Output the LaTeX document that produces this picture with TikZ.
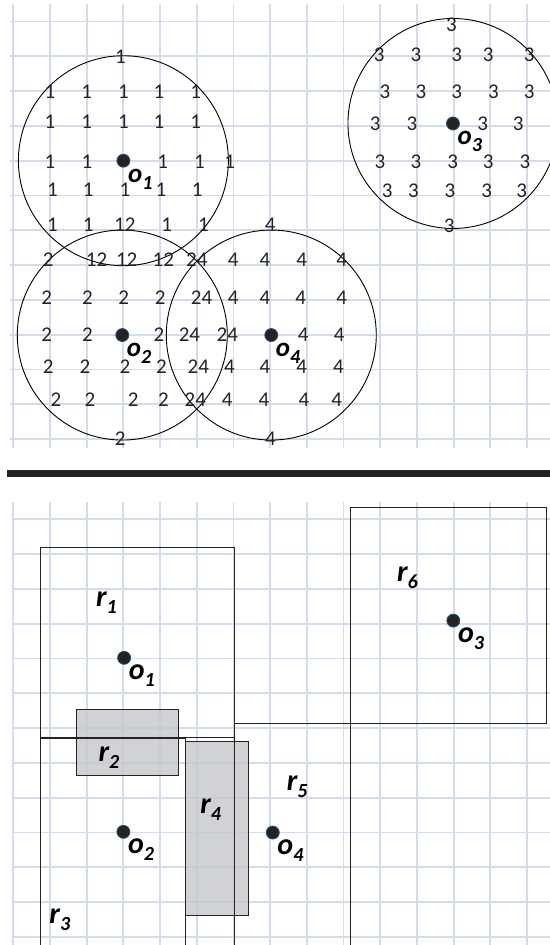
\documentclass[tikz,border=0pt]{standalone}
\usepackage{fontspec}
\setmainfont{Carlito}
\usetikzlibrary{positioning}
\definecolor{gridblue}{RGB}{212,220,236}
\definecolor{boxgray}{RGB}{198,199,203}
\definecolor{dotrim}{RGB}{40,80,130}
\definecolor{ink}{RGB}{35,35,35}
\tikzset{
  gridline/.style={gridblue,line width=1.8pt},
  sepline/.style={ink,line width=6.8pt},
  zone/.style={black,line width=0.9pt},
  rbox/.style={ink,line width=1pt},
  shaded/.style={fill=boxgray,fill opacity=0.8,draw=ink,line width=1pt},
  dot/.style={circle,fill=ink,draw=dotrim,line width=0.8pt,inner sep=0pt,minimum size=13pt},
  num/.style={ink,font=\fontsize{21}{21}\selectfont,inner sep=0pt},
  olab/.style={anchor=base west,inner sep=0pt,xshift=4.5pt,yshift=-21.5pt,
    font=\fontsize{27}{27}\selectfont\bfseries\itshape},
  rlab/.style={anchor=base west,inner sep=0pt,
    font=\fontsize{30}{30}\selectfont\bfseries\itshape},
  bigtext/.style={font=\fontsize{30}{30}\selectfont\bfseries\itshape},
}
\newcommand{\lbl}[2]{#1\raisebox{-7pt}{\fontsize{20}{20}\selectfont #2}}

\begin{document}
\begin{tikzpicture}[x=36.7pt,y=-34.8pt]
  \useasboundingbox (-0.362,-0.618) rectangle (14.624,26.537);

  % upper grid
  \foreach \i in {0,...,14}
    \draw[gridline] (\i,-0.5) -- (\i,12.26);
  \foreach \j in {0,...,12}
    \draw[gridline] (-0.09,\j) -- (14.7,\j);

  \draw[sepline] (-0.18,12.98) -- (14.7,12.98);

  % objects with their circles
  \node[dot] (o1) at (3,4) {};
  \node[dot] (o2) at (2.97,9.01) {};
  \node[dot] (o3) at (11.98,2.93) {};
  \node[dot] (o4) at (7.03,9.01) {};
  \foreach \o in {o1,o2,o3,o4}
    \draw[zone] (\o) circle[radius=105pt];

  \foreach \x/\y/\t [count=\k] in {2.92/1.0/1,
      1.0/2.03/1, 2.0/2.03/1, 3.0/2.03/1, 3.97/2.03/1, 4.97/2.03/1,
      1.0/2.88/1, 2.0/2.88/1, 3.0/2.88/1, 3.97/2.88/1, 4.97/2.88/1,
      1.0/4.03/1, 2.01/4.03/1, 4.07/4.03/1, 5.07/4.03/1, 5.9/4.03/1,
      1.07/4.84/1, 2.04/4.84/1, 3.04/4.84/1, 4.02/4.84/1, 5.01/4.84/1,
      1.07/5.85/1, 2.04/5.85/1, 3.04/5.85/12, 4.18/5.85/1, 5.18/5.85/1}
    \node[num] (a\k) at (\x,\y) {\t};
  \foreach \x/\y/\t [count=\k] in {
      0.95/6.85/2, 2.27/6.85/12, 3.09/6.85/12, 4.09/6.85/12, 5.0/6.85/24,
      5.99/6.85/4, 6.86/6.85/4, 7.86/6.85/4, 8.95/6.85/4,
      0.91/7.95/2, 2.02/7.95/2, 3.01/7.95/2, 4.0/7.95/2, 5.13/7.95/24,
      5.99/7.95/4, 6.86/7.95/4, 7.83/7.95/4, 8.95/7.95/4,
      0.91/9.01/2, 2.02/9.01/2, 3.97/9.01/2, 4.80/9.01/24, 5.83/9.01/24,
      7.9/9.01/4, 8.88/9.01/4,
      0.95/9.92/2, 1.95/9.92/2, 3.04/9.92/2, 4.04/9.92/2, 5.04/9.92/24,
      5.89/9.92/4, 6.86/9.92/4, 7.86/9.92/4, 8.86/9.92/4,
      1.16/10.88/2, 2.09/10.88/2, 3.27/10.88/2, 4.09/10.88/2, 4.96/10.88/24,
      5.83/10.88/4, 6.83/10.88/4, 7.92/10.88/4, 8.81/10.88/4,
      2.91/12.0/2, 7.01/12.0/4, 7.0/5.85/4}
    \node[num] (b\k) at (\x,\y) {\t};
  \foreach \x/\y/\t [count=\k] in {11.94/0.1/3,
      9.97/0.96/3, 10.97/0.96/3, 12.08/0.96/3, 12.94/0.96/3, 14.06/0.96/3,
      10.13/2.02/3, 11.11/2.02/3, 12.08/2.02/3, 13.08/2.02/3, 14.06/2.02/3,
      9.86/2.93/3, 10.86/2.93/3, 12.79/2.93/3, 13.76/2.93/3,
      9.99/4.03/3, 10.97/4.03/3, 11.97/4.03/3, 12.94/4.03/3, 13.94/4.03/3,
      10.19/4.86/3, 10.90/4.86/3, 11.9/4.86/3, 12.9/4.86/3, 13.85/4.86/3,
      11.88/5.88/3}
    \node[num] (c\k) at (\x,\y) {\t};

  \node[olab] (lo1) at (o1) {\lbl{o}{1}};
  \node[olab] (lo2) at (o2) {\lbl{o}{2}};
  \node[olab] (lo3) at (o3) {\lbl{o}{3}};
  \node[olab] (lo4) at (o4) {\lbl{o}{4}};

  % lower grid with the regions
  \begin{scope}[shift={(0,14.305)}]
    \foreach \i in {0,...,14}
      \draw[gridline] (\i,-0.5) -- (\i,12.5);
    \foreach \j in {0,...,12}
      \draw[gridline] (-0.035,\j) -- (14.7,\j);

    \draw[shaded] (1.73,5.46) rectangle (4.50,7.35);
    \draw[shaded] (4.68,6.39) rectangle (6.40,11.37);
    \draw[rbox] (0.73,0.80) rectangle (6.02,6.27);
    \draw[rbox] (0.73,6.29) rectangle (4.68,13);
    \draw[rbox] (6.03,5.86) rectangle (9.20,13);
    \draw[rbox] (9.20,-0.33) rectangle (14.53,5.86);

    \node[dot] (p1) at (3.02,3.98) {};
    \node[dot] (p2) at (3.0,8.98) {};
    \node[dot] (p3) at (11.99,2.91) {};
    \node[dot] (p4) at (7.07,9.0) {};
    \node[olab,bigtext] (lp1) at (p1) {\lbl{o}{1}};
    \node[olab,bigtext] (lp2) at (p2) {\lbl{o}{2}};
    \node[olab,bigtext] (lp3) at (p3) {\lbl{o}{3}};
    \node[olab,bigtext] (lp4) at (p4) {\lbl{o}{4}};

    \node[rlab] (r1) at (2.25,2.51) {\lbl{r}{1}};
    \node[rlab] (r2) at (2.32,6.97) {\lbl{r}{2}};
    \node[rlab] (r3) at (0.98,11.61) {\lbl{r}{3}};
    \node[rlab] (r4) at (5.09,8.45) {\lbl{r}{4}};
    \node[rlab] (r5) at (7.45,7.78) {\lbl{r}{5}};
    \node[rlab] (r6) at (10.45,1.79) {\lbl{r}{6}};
  \end{scope}
\end{tikzpicture}
\end{document}
